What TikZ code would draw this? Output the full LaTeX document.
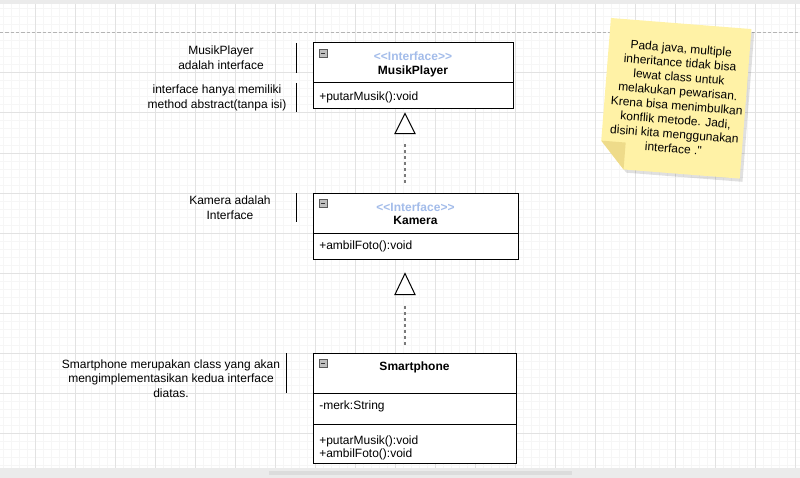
\documentclass[tikz,border=0pt]{standalone}
\usepackage{fontspec}
\setmainfont{Liberation Sans}[Ligatures=TeXOff]
\usetikzlibrary{calc}
\definecolor{gridmin}{HTML}{F6F6F6}
\definecolor{gridmaj}{HTML}{E2E2E2}
\definecolor{stereo}{HTML}{A3BCEA}
\definecolor{notefill}{HTML}{FFF2A6}
\definecolor{notefold}{HTML}{EEDB8A}
\definecolor{chrome}{HTML}{EBEBEB}
\definecolor{thumb}{HTML}{DCDCDC}
\definecolor{pageline}{HTML}{B4B4B4}
\definecolor{dashgray}{HTML}{7A7A7A}
\begin{document}
\begin{tikzpicture}[x=0.75pt,y=-0.75pt,
  font=\fontsize{9}{11}\selectfont,
  classbox/.style={draw=black, line width=0.75pt, fill=white, rectangle, inner sep=0pt},
  divider/.style={draw=black, line width=0.75pt},
  member/.style={anchor=west, inner sep=0pt},
  cname/.style={inner sep=0pt, font=\fontsize{9}{11}\selectfont\bfseries},
  stereotype/.style={inner sep=0pt, text=stereo, font=\fontsize{9}{11}\selectfont\bfseries},
  label/.style={inner sep=0pt, align=center},
  bar/.style={draw=black, line width=0.75pt},
  minusicon/.style={draw=black!65, fill=black!25, line width=0.4pt, minimum size=6pt, inner sep=0pt, rectangle,
    path picture={\draw[black!80, line width=0.6pt] ([xshift=1.3pt]path picture bounding box.west) -- ([xshift=-1.3pt]path picture bounding box.east);}},
  tri/.style={draw=black, line width=0.75pt, fill=white, line join=miter},
  dashconn/.style={draw=dashgray, line width=1.2pt, dash pattern=on 2.25pt off 2.25pt},
]
\useasboundingbox (0,0) rectangle (800,478);
% grid
\foreach \i in {0,...,99} \draw[gridmin, line width=0.75pt] ({3.5+8*\i},0) -- ({3.5+8*\i},478);
\foreach \i in {0,...,59} \draw[gridmin, line width=0.75pt] (0,{1+8*\i}) -- (800,{1+8*\i});
\foreach \i in {0,...,19} \draw[gridmaj, line width=0.75pt] ({35.5+40*\i},0) -- ({35.5+40*\i},478);
\foreach \i in {1,...,11} \draw[gridmaj, line width=0.75pt] (0,{33+40*\i}) -- (800,{33+40*\i});
\draw[pageline, line width=0.75pt, dash pattern=on 2.5pt off 1.5pt] (0,33) -- (800,33);
% chrome
\fill[chrome] (0,0) rectangle (800,4.5);
\fill[chrome] (0,467.5) rectangle (800,478);
\fill[thumb] (269,471) rectangle (572,475);

% class boxes
\node[classbox, minimum width=150pt, minimum height=49.5pt] (musik) at (413,76) {};
\draw[divider] (313,83) -- (513,83);
\node[minusicon] at (323,53) {};
\node[stereotype] at (413,56) {<\kern0pt<Interface>\kern0pt>};
\node[cname] at (413,71) {MusikPlayer};
\node[member] at (319,97.5) {+putarMusik():void};

\node[classbox, minimum width=153.75pt, minimum height=49.5pt] (kamera) at (415.5,226) {};
\draw[divider] (313,233) -- (518,233);
\node[minusicon] at (323,203) {};
\node[stereotype] at (415.5,207) {<\kern0pt<Interface>\kern0pt>};
\node[cname] at (415.5,220.5) {Kamera};
\node[member] at (319,246.5) {+ambilFoto():void};

\node[classbox, minimum width=152.25pt, minimum height=82.5pt] (smart) at (414.5,408) {};
\draw[divider] (313,393) -- (516,393);
\draw[divider] (313,424) -- (516,424);
\node[minusicon] at (323,363) {};
\node[cname] at (414.5,367) {Smartphone};
\node[member] at (319,406.5) {-merk:String};
\node[member] at (319,441) {+putarMusik():void};
\node[member] at (319,454.5) {+ambilFoto():void};

% realization connectors
\draw[dashconn] ($(kamera.north)+(-10.5,-10)$) -- ($(musik.south)+(-8,34)$);
\draw[tri] ($(musik.south)+(-8,4)$) -- ++(-10,20) -- ++(20,0) -- cycle;
\draw[dashconn] ($(smart.north)+(-9.5,-8)$) -- ($(kamera.south)+(-10.5,46)$);
\draw[tri] ($(kamera.south)+(-10.5,14)$) -- ++(-10,21) -- ++(20,0) -- cycle;

% annotations
\node[label] (l1) at (221,58) {MusikPlayer\\adalah interface};
\draw[bar] (296,43) -- (296,73);
\node[label] (l2) at (217,98) {interface hanya memiliki\\method abstract(tanpa isi)};
\draw[bar] (296,83) -- (296,112);
\node[label] (l3) at (230,207.5) {Kamera adalah\\Interface};
\draw[bar] (296,193) -- (296,222);
\node[label] (l4) at (171,378.5) {Smartphone merupakan class yang akan\\mengimplementasikan kedua interface\\diatas.};
\draw[bar] (286,353) -- (286,393);

% sticky note
\begin{scope}[shift={(675.3,98.3)}, rotate=-4.5]
  \fill[black, opacity=0.12] (-67.5,-72) -- (73.5,-72) -- (73.5,78) -- (-43,78) -- (-67.5,51) -- cycle;
  \fill[notefill] (-70.5,-75) -- (70.5,-75) -- (70.5,75) -- (-46,75) -- (-70.5,48) -- cycle;
  \fill[notefold] (-70.5,48) -- (-46,48) -- (-46,75) -- cycle;
  \node[transform shape, align=center, inner sep=0pt, font=\fontsize{9}{10.75}\selectfont] (note) at (2,0)
    {Pada java, multiple\\inheritance tidak bisa\\lewat class untuk\\melakukan pewarisan.\\Krena bisa menimbulkan\\konflik metode. Jadi,\\disini kita menggunakan\\interface ."};
\end{scope}
\end{tikzpicture}
\end{document}
